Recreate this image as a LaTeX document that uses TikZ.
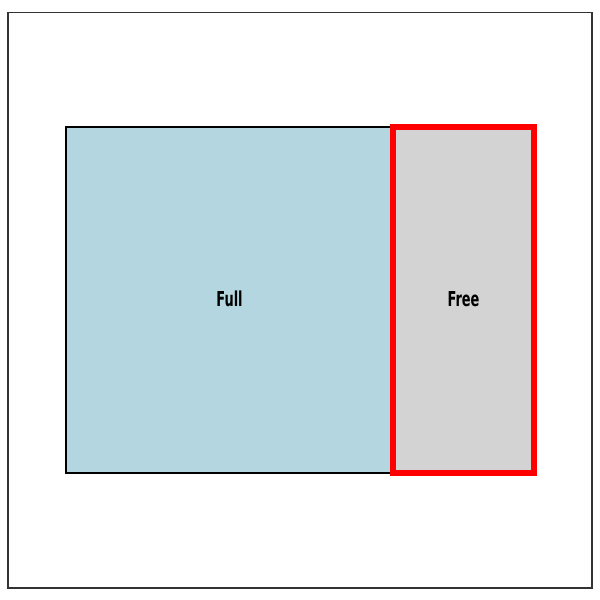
\documentclass[tikz,border=0pt]{standalone}
\usepackage{fontspec}
\setmainfont{DejaVu Sans}
\newfontfamily\condfont[FakeStretch=0.63]{DejaVu Sans}
\usetikzlibrary{positioning}

\definecolor{fullblue}{RGB}{180,214,224}
\definecolor{freegray}{RGB}{211,211,211}

\tikzset{
  block/.style={draw=black, line width=1.2pt, inner sep=0pt, outer sep=0pt, anchor=north west},
  tag/.style={font=\condfont\bfseries\fontsize{14.8}{17}\selectfont}
}

\begin{document}
\begin{tikzpicture}[x=0.72pt, y=-0.72pt]

\useasboundingbox (0,0) rectangle (600,600);
\draw [black!80, line width=1pt] (8,12.5) rectangle (592,588);

\node (full) [block, fill=fullblue, minimum width=327*0.72pt, minimum height=346*0.72pt] at (66,127) {};
\node (free) [block, fill=freegray, draw=red, line width=4pt, minimum width=141*0.72pt, minimum height=346*0.72pt] at (393,127) {};

\node (fulltxt) [tag] at ([yshift=0.7pt]full.center) {Full};
\node (freetxt) [tag] at ([yshift=0.7pt]free.center) {Free};

\end{tikzpicture}
\end{document}
